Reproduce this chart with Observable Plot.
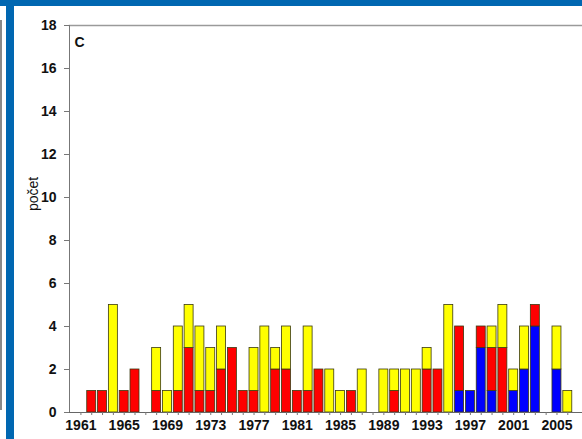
<!DOCTYPE html>
<html>
<head>
<meta charset="utf-8">
<script src="https://cdn.jsdelivr.net/npm/d3@7"></script>
<script src="https://cdn.jsdelivr.net/npm/@observablehq/plot@0.6"></script>
<style>
  html, body { margin: 0; padding: 0; background: #fff; }
  #wrap { position: relative; width: 582px; height: 439px; overflow: hidden; background: #fff; }
  #wrap svg { position: absolute; left: 0; top: 0; }
  .band { position: absolute; background: #0067b1; }
  .gline { position: absolute; background: #8a8a8a; }
</style>
</head>
<body>
<div id="wrap">
  <div class="gline" style="left:0px;top:20px;width:2px;height:390px;"></div>
</div>
<script>
const years = [1961,1962,1963,1964,1965,1966,1967,1968,1969,1970,
               1971,1972,1973,1974,1975,1976,1977,1978,1979,1980,
               1981,1982,1983,1984,1985,1986,1987,1988,1989,1990,
               1991,1992,1993,1994,1995,1996,1997,1998,1999,2000,
               2001,2002,2003,2004,2005,2006];
const blueVals   = [0,0,0,0,0,0,0,0,0,0, 0,0,0,0,0,0,0,0,0,0, 0,0,0,0,0,0,0,0,0,0, 0,0,0,0,0,1,1,3,1,0, 1,2,4,0,2,0];
const redVals    = [0,1,1,0,1,2,0,1,0,1, 3,1,1,2,3,1,1,0,2,2, 1,1,2,0,0,1,0,0,0,1, 0,0,2,2,0,3,0,1,2,3, 0,0,1,0,0,0];
const yellowVals = [0,0,0,5,0,0,0,2,1,3, 2,3,2,2,0,0,2,4,1,2, 0,3,0,2,1,0,2,0,2,1, 2,2,1,0,5,0,0,0,1,2, 1,2,0,0,2,1];
const seriesNames = ["blue", "red", "yellow"];
const seriesColors = ["#0000ff", "#ff0000", "#ffff00"];
const yTicks = [0,2,4,6,8,10,12,14,16,18];
const xLabelYears = [1961,1965,1969,1973,1977,1981,1985,1989,1993,1997,2001,2005];
const panelLetter = "C";
const yLabel = "počet";

const rows = [];
years.forEach((yr, i) => {
  rows.push({year: yr, series: "blue", value: blueVals[i]});
  rows.push({year: yr, series: "red", value: redVals[i]});
  rows.push({year: yr, series: "yellow", value: yellowVals[i]});
});

const font = "'Liberation Sans', Arial, sans-serif";

const chart = Plot.plot({
  width: 582,
  height: 439,
  marginLeft: 69,
  marginTop: 25,
  marginBottom: 27,
  marginRight: 0,
  style: {fontFamily: font, fontSize: "14px", color: "#111", background: "transparent"},
  x: {type: "band", domain: years, range: [75, 572.7], paddingInner: 0.17, paddingOuter: 0.085},
  y: {domain: [0, 18]},
  color: {domain: seriesNames, range: seriesColors},
  marks: [
    Plot.frame({anchor: "top", stroke: "#9a9a9a", strokeWidth: 1.5}),
    Plot.barY(rows, {x: "year", y: "value", fill: "series", stroke: "#3a3a10", strokeWidth: 0.8, inset: 0}),
    Plot.frame({anchor: "left", stroke: "#777"}),
    Plot.ruleY([0], {stroke: "#666"}),
    Plot.axisY({ticks: yTicks, tickSize: 5, tickPadding: 8, fontWeight: "bold", fontSize: 14, label: null, stroke: "#777"}),
    Plot.axisX({ticks: years, tickSize: 3, tickPadding: 5, fontWeight: "bold", fontSize: 14, label: null, stroke: "#777",
      tickFormat: d => xLabelYears.includes(d) ? String(d) : ""}),
    Plot.text([panelLetter], {frameAnchor: "top-left", dx: 5, dy: 12, text: d => d, fontWeight: "bold", fontSize: 14, fill: "#111"}),
    Plot.text([yLabel], {frameAnchor: "left", dx: -36, dy: -8, rotate: -90, text: d => d, fontSize: 14, fill: "#111"})
  ]
});
const wrap = document.getElementById("wrap");
wrap.insertBefore(chart, wrap.firstChild);
const topBand = document.createElement("div");
topBand.className = "band";
topBand.style.cssText = "left:0;top:0;width:582px;height:6px;";
wrap.appendChild(topBand);
const leftBand = document.createElement("div");
leftBand.className = "band";
leftBand.style.cssText = "left:6px;top:0;width:8px;height:439px;";
wrap.appendChild(leftBand);
</script>
</body>
</html>
